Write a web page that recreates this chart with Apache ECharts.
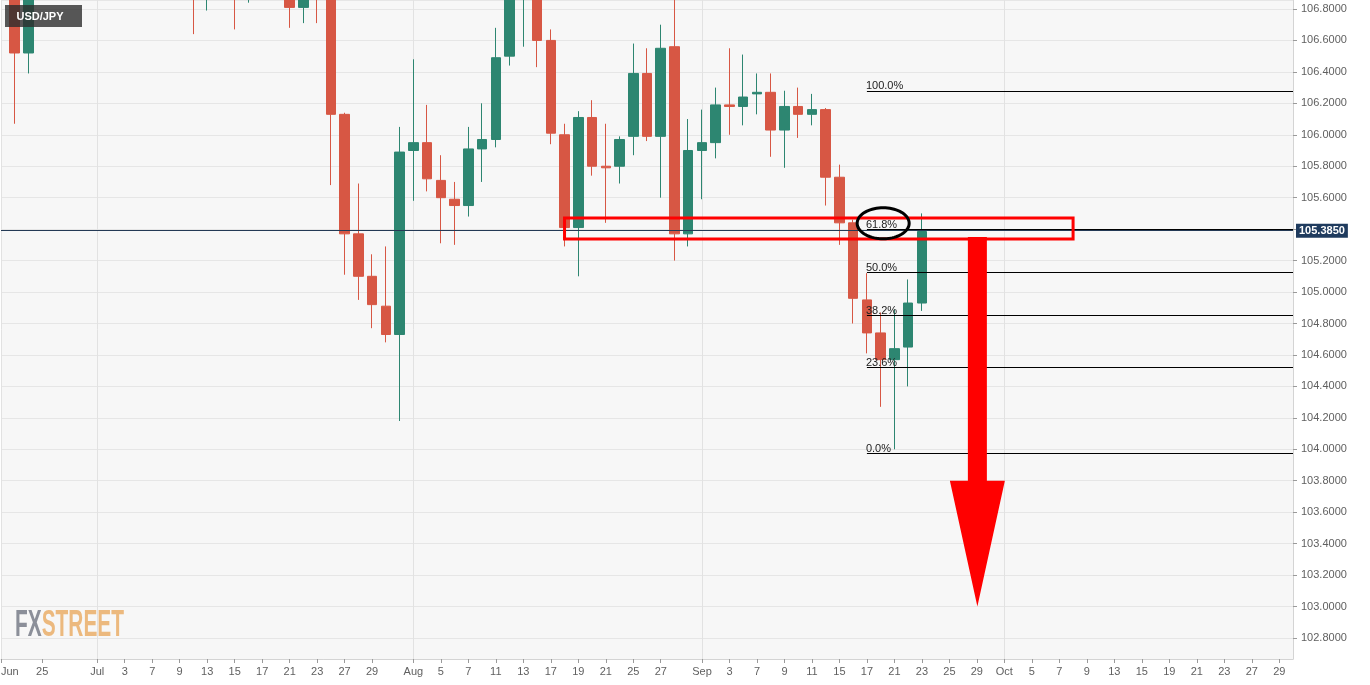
<!DOCTYPE html>
<html>
<head>
<meta charset="utf-8">
<script src="https://cdn.jsdelivr.net/npm/echarts@6/dist/echarts.min.js"></script>
<style>
  html, body { margin: 0; padding: 0; background: #ffffff; }
  #chart { width: 1370px; height: 685px; }
</style>
</head>
<body>
<div id="chart"></div>
<script>
// ---------------- DATA ----------------
// Trading days (category axis)
const days = [
  '2020-06-22','2020-06-23','2020-06-24','2020-06-25','2020-06-26','2020-06-29','2020-06-30',
  '2020-07-01','2020-07-02','2020-07-03','2020-07-06','2020-07-07','2020-07-08','2020-07-09','2020-07-10',
  '2020-07-13','2020-07-14','2020-07-15','2020-07-16','2020-07-17','2020-07-20','2020-07-21','2020-07-22',
  '2020-07-23','2020-07-24','2020-07-27','2020-07-28','2020-07-29','2020-07-30','2020-07-31',
  '2020-08-03','2020-08-04','2020-08-05','2020-08-06','2020-08-07','2020-08-10','2020-08-11','2020-08-12',
  '2020-08-13','2020-08-14','2020-08-17','2020-08-18','2020-08-19','2020-08-20','2020-08-21','2020-08-24',
  '2020-08-25','2020-08-26','2020-08-27','2020-08-28','2020-08-31',
  '2020-09-01','2020-09-02','2020-09-03','2020-09-04','2020-09-07','2020-09-08','2020-09-09','2020-09-10',
  '2020-09-11','2020-09-14','2020-09-15','2020-09-16','2020-09-17','2020-09-18','2020-09-21','2020-09-22',
  '2020-09-23','2020-09-24','2020-09-25','2020-09-28','2020-09-29','2020-09-30',
  '2020-10-01','2020-10-02','2020-10-05','2020-10-06','2020-10-07','2020-10-08','2020-10-09','2020-10-12',
  '2020-10-13','2020-10-14','2020-10-15','2020-10-16','2020-10-19','2020-10-20','2020-10-21','2020-10-22',
  '2020-10-23','2020-10-26','2020-10-27','2020-10-28','2020-10-29','2020-10-30'
];

// OHLC (Jun 22 .. Sep 23)
const open = [
  106.90,107.00,106.52,107.05,107.15,107.20,107.55,
  107.90,107.45,107.48,107.50,107.35,107.55,107.27,107.25,
  106.92,107.30,107.25,106.90,107.25,107.00,107.25,106.81,
  107.18,106.88,106.13,105.37,105.10,104.91,104.73,
  105.90,105.95,105.71,105.59,105.55,105.91,105.97,106.50,
  106.92,106.95,106.60,106.00,105.41,106.11,105.80,105.80,
  105.99,106.39,105.99,106.56,105.37,
  105.90,105.95,106.19,106.18,106.26,106.27,106.03,106.18,
  106.13,106.16,105.73,105.44,104.95,104.74,104.57,104.65,
  104.93
];
const close = [
  106.95,106.52,107.05,107.15,107.20,107.55,107.90,
  107.45,107.48,107.50,107.35,107.55,107.27,107.25,106.92,
  107.30,107.25,106.90,107.25,107.00,107.25,106.81,107.18,
  106.88,106.13,105.37,105.10,104.92,104.73,105.89,
  105.95,105.72,105.60,105.55,105.91,105.97,106.49,106.92,
  106.95,106.60,106.01,105.41,106.11,105.80,105.79,105.97,
  106.39,105.99,106.55,105.37,105.90,
  105.95,106.19,106.18,106.24,106.27,106.03,106.18,106.13,
  106.16,105.73,105.44,104.96,104.74,104.57,104.64,104.93,
  105.385
];
const low = [
  106.88,106.07,106.39,106.95,106.95,107.10,107.45,
  107.40,107.30,107.40,107.30,107.20,107.20,107.05,106.64,
  106.79,106.95,106.67,106.84,106.95,106.90,106.68,106.71,
  106.71,105.68,105.11,104.95,104.77,104.68,104.18,
  105.58,105.64,105.31,105.30,105.48,105.70,105.92,106.44,
  106.56,106.43,105.94,105.29,105.10,105.74,105.44,105.69,
  105.87,105.96,105.60,105.20,105.29,
  105.59,105.85,106.00,106.06,106.13,105.86,105.79,105.98,
  106.06,105.55,105.30,104.80,104.61,104.27,104.00,104.40,
  104.88
];
const high = [
  107.10,107.05,107.10,107.35,107.30,107.65,108.00,
  108.15,107.70,107.60,107.75,107.60,107.70,107.45,107.30,
  107.50,107.35,107.30,107.30,107.40,107.35,107.40,107.25,
  107.30,107.00,106.14,105.69,105.24,105.29,106.05,
  106.48,106.19,105.87,105.70,106.05,106.20,106.68,107.00,
  107.18,107.05,106.67,106.07,106.15,106.22,106.07,105.99,
  106.58,106.55,106.70,106.95,106.10,
  106.16,106.30,106.55,106.51,106.39,106.39,106.28,106.30,
  106.26,106.17,105.81,105.46,105.12,104.87,104.89,105.08,
  105.50
];
const lastPrice = 105.385;

// X tick labels
const xTickDays = [
  '2020-06-22','2020-06-25','2020-07-01','2020-07-03','2020-07-07','2020-07-09','2020-07-13','2020-07-15',
  '2020-07-17','2020-07-21','2020-07-23','2020-07-27','2020-07-29','2020-08-03','2020-08-05','2020-08-07',
  '2020-08-11','2020-08-13','2020-08-17','2020-08-19','2020-08-21','2020-08-25','2020-08-27','2020-09-01',
  '2020-09-03','2020-09-07','2020-09-09','2020-09-11','2020-09-15','2020-09-17','2020-09-21','2020-09-23',
  '2020-09-25','2020-09-29','2020-10-01','2020-10-05','2020-10-07','2020-10-09','2020-10-13','2020-10-15',
  '2020-10-19','2020-10-21','2020-10-23','2020-10-27','2020-10-29'
];
const xTickTexts = [
  'Jun','25','Jul','3','7','9','13','15',
  '17','21','23','27','29','Aug','5','7',
  '11','13','17','19','21','25','27','Sep',
  '3','7','9','11','15','17','21','23',
  '25','29','Oct','5','7','9','13','15',
  '19','21','23','27','29'
];
const monthLineDays = ['2020-06-22','2020-07-01','2020-08-03','2020-09-01','2020-10-01'];

// Fibonacci retracement
const fibStartDay = '2020-09-17';
const fibEndDay = '2020-10-30';
const fibLabels = ['100.0%','61.8%','50.0%','38.2%','23.6%','0.0%'];
const fibValues = [106.279, 105.397, 105.126, 104.854, 104.521, 103.976];

// Annotations
const zoneDays = ['2020-08-18','2020-10-08'];
const zoneValues = [105.471, 105.337];
const arrowDay = '2020-09-29';
const arrowValues = [105.35, 103.80, 103.00]; // shaft top, head top, tip
const ellipseDay = '2020-09-18';
const ellipseValue = 105.437;

// ---------------- CHART ----------------
const RED = '#d75744';
const GREEN = '#2d8671';
const FONT = 'Arial, "Liberation Sans", sans-serif';

const candles = open.map((o, i) => [o, close[i], low[i], high[i]]);
const tickMap = {};
xTickDays.forEach((d, i) => { tickMap[d] = xTickTexts[i]; });
const tickIdx = new Set(xTickDays.map(d => days.indexOf(d)));
const monthIdx = new Set(monthLineDays.map(d => days.indexOf(d)));

const fibLines = fibValues.map((v, i) => [
  { coord: [fibStartDay, v],
    lineStyle: { color: '#000', width: 1, type: 'solid' },
    label: { show: true, formatter: fibLabels[i], position: 'insideStartTop',
             color: '#222', fontSize: 11, lineHeight: 11, fontFamily: FONT, distance: -1 } },
  { coord: [fibEndDay, v] }
]);

const chart = echarts.init(document.getElementById('chart'), null, { renderer: 'canvas' });
chart.setOption({
  animation: false,
  backgroundColor: '#ffffff',
  grid: { left: 1, right: 77, top: 0, bottom: 26, show: true, backgroundColor: '#f7f7f7',
          borderWidth: 0, containLabel: false, outerBoundsMode: 'none' },
  xAxis: {
    type: 'category', data: days, boundaryGap: false,
    axisLine: { lineStyle: { color: '#d4d4d4' } },
    axisTick: { show: true, interval: (i) => tickIdx.has(i), length: 4, lineStyle: { color: '#9a9a9a' } },
    axisLabel: { interval: (i) => tickIdx.has(i), formatter: (v) => tickMap[v] || '',
                 color: '#606060', fontSize: 11, fontFamily: FONT, margin: 7, alignMinLabel: 'left' },
    splitLine: { show: true, interval: (i) => monthIdx.has(i), lineStyle: { color: '#e2e2e2' } }
  },
  yAxis: {
    type: 'value', position: 'right', min: 102.6665, max: 106.857, splitNumber: 20, scale: true,
    axisLine: { show: true, lineStyle: { color: '#d4d4d4' } },
    axisTick: { show: true, length: 4, lineStyle: { color: '#9a9a9a' } },
    axisLabel: { formatter: (v) => v.toFixed(4), color: '#606060', fontSize: 11, fontFamily: FONT,
                 margin: 8, showMinLabel: false, showMaxLabel: false },
    splitLine: { show: true, lineStyle: { color: '#e6e6e6' } }
  },
  series: [
    {
      type: 'candlestick', data: candles, barWidth: 10, z: 2,
      itemStyle: { color: GREEN, color0: RED, borderColor: GREEN, borderColor0: RED, borderWidth: 1 },
      markLine: {
        symbol: ['none', 'none'], silent: true, animation: false,
        data: [
          { yAxis: lastPrice,
            lineStyle: { color: '#243a55', width: 1, type: 'solid' },
            label: { show: true, position: 'end', formatter: lastPrice.toFixed(4), backgroundColor: '#1f3b5e',
                     color: '#fff', fontWeight: 'bold', fontSize: 11, fontFamily: FONT, padding: [2, 3, 1, 3], distance: 3 } }
        ].concat(fibLines)
      }
    },
    {
      type: 'custom', z: 5, silent: true,
      data: [[days.indexOf(zoneDays[0]), zoneValues[0], days.indexOf(zoneDays[1]), zoneValues[1]]],
      encode: { x: [0, 2], y: [1, 3] },
      renderItem: (params, api) => {
        const p1 = api.coord([api.value(0), api.value(1)]);
        const p2 = api.coord([api.value(2), api.value(3)]);
        return { type: 'rect', shape: { x: p1[0], y: p1[1], width: p2[0] - p1[0], height: p2[1] - p1[1] },
                 style: { fill: 'rgba(0,0,0,0)', stroke: '#ff0000', lineWidth: 3 } };
      }
    },
    {
      type: 'custom', z: 6, silent: true,
      data: [[days.indexOf(arrowDay), arrowValues[0], arrowValues[1], arrowValues[2]]],
      encode: { x: 0, y: [1, 2, 3] },
      renderItem: (params, api) => {
        const x = api.value(0);
        const t = api.coord([x, api.value(1)]);
        const h = api.coord([x, api.value(2)]);
        const p = api.coord([x, api.value(3)]);
        const cx = t[0] + 0.5, sw = 9.5, hw = 27.5;
        return { type: 'polygon',
                 shape: { points: [[cx - sw, t[1]], [cx + sw, t[1]], [cx + sw, h[1]], [cx + hw, h[1]],
                                   [cx, p[1]], [cx - hw, h[1]], [cx - sw, h[1]]] },
                 style: { fill: '#ff0000' } };
      }
    },
    {
      type: 'custom', z: 7, silent: true,
      data: [[days.indexOf(ellipseDay), ellipseValue]],
      encode: { x: 0, y: 1 },
      renderItem: (params, api) => {
        const c = api.coord([api.value(0), api.value(1)]);
        const cx = c[0] + 2.5, cy = c[1], rx = 26, ry = 15.5;
        const pts = [];
        for (let k = 0; k < 72; k++) {
          const a = k / 72 * Math.PI * 2;
          pts.push([cx + rx * Math.cos(a), cy + ry * Math.sin(a)]);
        }
        return { type: 'polygon', shape: { points: pts },
                 style: { fill: 'rgba(0,0,0,0)', stroke: '#000', lineWidth: 3 } };
      }
    }
  ],
  graphic: [
    { type: 'rect', x: 5, y: 5, shape: { width: 77, height: 22 }, style: { fill: 'rgba(45,45,45,0.8)' }, z: 100 },
    { type: 'text', x: 40, y: 16.5, z: 101,
      style: { text: 'USD/JPY', fill: '#ffffff', font: 'bold 11px ' + FONT,
               textAlign: 'center', textVerticalAlign: 'middle', align: 'center', verticalAlign: 'middle' } },
    { type: 'group', x: 15, y: 608, scaleX: 0.58, z: 100,
      children: [
        { type: 'text', x: 0, y: 0,
          style: { text: 'FX', fill: '#8b8f99', font: 'bold 36px "Liberation Sans", Arial, sans-serif',
                   textVerticalAlign: 'top', verticalAlign: 'top' } },
        { type: 'text', x: 46, y: 0,
          style: { text: 'STREET', fill: '#ecb97e', font: 'bold 36px "Liberation Sans", Arial, sans-serif',
                   textVerticalAlign: 'top', verticalAlign: 'top' } }
      ] }
  ]
});
</script>
</body>
</html>
